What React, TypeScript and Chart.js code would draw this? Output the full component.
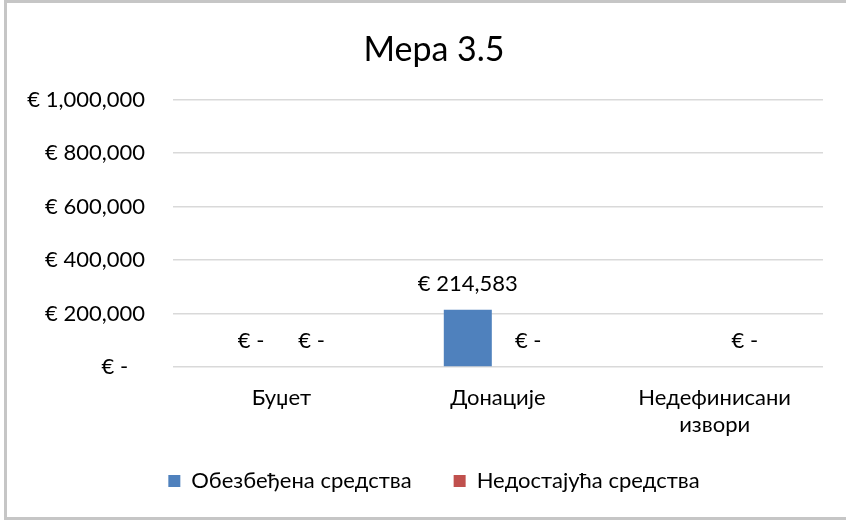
import React, { useEffect, useRef } from "react";
import { Chart, registerables } from "chart.js";

Chart.register(...registerables);

const chartTitle = "Мера 3.5";
const categories: (string | string[])[] = ["Буџет", "Донације", ["Недефинисани", "извори"]];
const seriesNames = ["Обезбеђена средства", "Недостајућа средства"];
const securedFunds: (number | null)[] = [0, 214583, null];
const missingFunds: (number | null)[] = [0, 0, 0];
const yMin = 0;
const yMax = 1000000;
const yStep = 200000;
const seriesColors = ["#4F81BD", "#C0504D"];

const FONT = 'Lato, "Open Sans", sans-serif';
const TEXT_SIZE = 22;
const BLOCK_CENTER = 434;
const LEGEND_SHIFT_UP = 19;

const fmt = (v: number) => (v === 0 ? "€ -" : "€ " + v.toLocaleString("en-US"));

const framePlugin = {
  id: "frame",
  beforeDraw(chart: any) {
    const { ctx, width, height } = chart;
    ctx.save();
    ctx.fillStyle = "#ffffff";
    ctx.fillRect(0, 0, width, height);
    ctx.fillStyle = "#C6C6C6";
    ctx.fillRect(5, 0, width - 5, 3);
    ctx.fillRect(4, 0, 3, 520);
    ctx.fillRect(4, 517, width - 4, 3);
    ctx.restore();
  },
};

const centerBlocksPlugin = {
  id: "centerBlocks",
  afterLayout(chart: any) {
    const boxes = [chart.titleBlock, chart.legend];
    boxes.forEach((b: any) => {
      if (!b) return;
      const d = BLOCK_CENTER - (b.left + b.right) / 2;
      b.left += d;
      b.right += d;
    });
    if (chart.legend) {
      chart.legend.top -= LEGEND_SHIFT_UP;
      chart.legend.bottom -= LEGEND_SHIFT_UP;
    }
  },
};

const dataLabelPlugin = {
  id: "dataLabels",
  afterDatasetsDraw(chart: any) {
    const { ctx } = chart;
    ctx.save();
    ctx.font = `${TEXT_SIZE}px ${FONT}`;
    ctx.fillStyle = "#000000";
    ctx.textAlign = "center";
    ctx.textBaseline = "middle";
    chart.data.datasets.forEach((ds: any, di: number) => {
      const meta = chart.getDatasetMeta(di);
      meta.data.forEach((el: any, i: number) => {
        const v = ds.data[i];
        if (v === null || v === undefined) return;
        ctx.fillText(fmt(v), el.x, el.y - 26);
      });
    });
    ctx.restore();
  },
};

export default function App() {
  const ref = useRef<HTMLCanvasElement | null>(null);

  useEffect(() => {
    if (!ref.current) return;
    const chart = new Chart(ref.current, {
      type: "bar",
      data: {
        labels: categories,
        datasets: [
          {
            label: seriesNames[0],
            data: securedFunds,
            backgroundColor: seriesColors[0],
            barPercentage: 0.795,
            categoryPercentage: 0.5575,
          },
          {
            label: seriesNames[1],
            data: missingFunds,
            backgroundColor: seriesColors[1],
            barPercentage: 0.795,
            categoryPercentage: 0.5575,
          },
        ],
      },
      options: {
        responsive: false,
        animation: false,
        layout: { padding: { left: 0, right: 23, top: 0, bottom: 3 } },
        plugins: {
          title: {
            display: true,
            text: chartTitle,
            color: "#000000",
            font: { family: FONT, size: 34, weight: "normal", lineHeight: 1.2 },
            padding: { top: 30, bottom: 29 },
          },
          legend: {
            position: "bottom",
            labels: {
              boxWidth: 12,
              boxHeight: 12,
              padding: 42,
              color: "#000000",
              font: { family: FONT, size: TEXT_SIZE },
            },
          },
          tooltip: { enabled: false },
        },
        scales: {
          x: {
            grid: { display: false, drawTicks: false },
            border: { display: false },
            ticks: {
              color: "#000000",
              padding: 17,
              font: { family: FONT, size: TEXT_SIZE, lineHeight: 1.25 },
              maxRotation: 0,
              autoSkip: false,
            },
            afterFit(s: any) {
              s.height = 80;
            },
          },
          y: {
            min: yMin,
            max: yMax,
            grid: { color: "#D9D9D9", lineWidth: 1.5, drawTicks: false },
            border: { display: false },
            ticks: {
              stepSize: yStep,
              color: "#000000",
              padding: 28,
              font: { family: FONT, size: TEXT_SIZE },
              callback: (v: any) => (Number(v) === 0 ? "€ -   " : fmt(Number(v))),
            },
            afterFit(s: any) {
              s.width = 173;
            },
          },
        },
      },
      plugins: [framePlugin, centerBlocksPlugin, dataLabelPlugin],
    });
    return () => chart.destroy();
  }, []);

  return (
    <div style={{ position: "absolute", left: 0, top: 0, width: 846, height: 524, background: "#fff" }}>
      <canvas ref={ref} width={846} height={524} style={{ display: "block" }} />
    </div>
  );
}
